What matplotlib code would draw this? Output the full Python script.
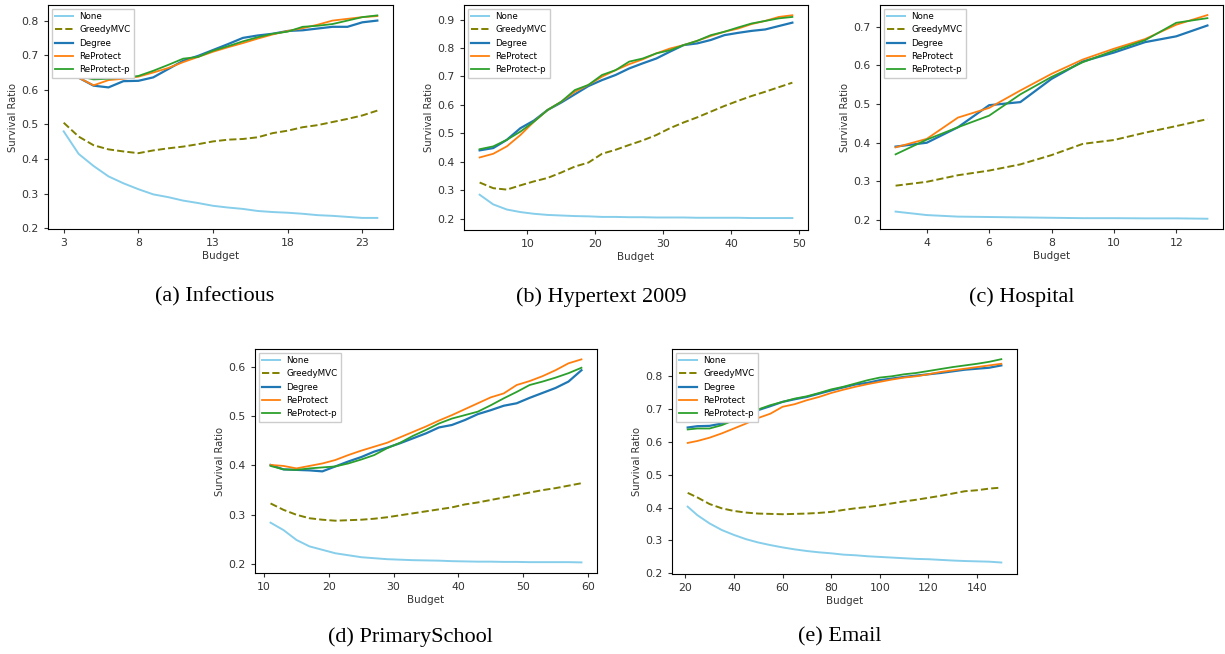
import numpy as np
import matplotlib
matplotlib.use('Agg')
import matplotlib.pyplot as plt

# (a) Infectious
inf_budget = list(range(3, 25))
inf_none = [0.48, 0.415, 0.38, 0.35, 0.33, 0.313, 0.298, 0.29, 0.28, 0.273, 0.265,
            0.26, 0.256, 0.25, 0.247, 0.245, 0.242, 0.238, 0.236, 0.233, 0.23, 0.23]
inf_greedy = [0.505, 0.465, 0.44, 0.428, 0.422, 0.417, 0.425, 0.431, 0.436, 0.443, 0.451,
              0.456, 0.458, 0.463, 0.475, 0.482, 0.492, 0.498, 0.507, 0.516, 0.526, 0.54]
inf_degree = [0.646, 0.635, 0.612, 0.607, 0.625, 0.626, 0.636, 0.66, 0.684, 0.698, 0.715,
              0.732, 0.75, 0.757, 0.762, 0.77, 0.772, 0.777, 0.782, 0.782, 0.795, 0.8]
inf_reprotect = [0.65, 0.635, 0.613, 0.628, 0.632, 0.638, 0.65, 0.663, 0.68, 0.695, 0.71,
                 0.723, 0.735, 0.748, 0.76, 0.77, 0.778, 0.788, 0.8, 0.805, 0.81, 0.813]
inf_reprotect_p = [0.648, 0.64, 0.63, 0.632, 0.635, 0.64, 0.655, 0.672, 0.69, 0.695, 0.713,
                   0.726, 0.74, 0.752, 0.762, 0.768, 0.782, 0.785, 0.79, 0.8, 0.81, 0.815]

# (b) Hypertext 2009
hyp_budget = list(range(3, 50, 2))
hyp_none = [0.284, 0.25, 0.232, 0.223, 0.217, 0.213, 0.211, 0.209, 0.208, 0.206, 0.206, 0.205,
            0.205, 0.204, 0.204, 0.204, 0.203, 0.203, 0.203, 0.203, 0.202, 0.202, 0.202, 0.202]
hyp_greedy = [0.327, 0.307, 0.302, 0.317, 0.331, 0.343, 0.362, 0.383, 0.397, 0.428, 0.442, 0.459,
              0.475, 0.494, 0.518, 0.538, 0.556, 0.576, 0.596, 0.614, 0.631, 0.646, 0.662, 0.678]
hyp_degree = [0.44, 0.448, 0.477, 0.518, 0.545, 0.582, 0.608, 0.637, 0.666, 0.687, 0.705, 0.728,
              0.746, 0.763, 0.787, 0.81, 0.816, 0.828, 0.845, 0.853, 0.86, 0.865, 0.877, 0.889]
hyp_reprotect = [0.415, 0.428, 0.454, 0.494, 0.541, 0.582, 0.611, 0.646, 0.67, 0.699, 0.722, 0.743,
                 0.76, 0.781, 0.798, 0.81, 0.825, 0.842, 0.857, 0.868, 0.884, 0.895, 0.909, 0.915]
hyp_reprotect_p = [0.444, 0.454, 0.477, 0.506, 0.541, 0.582, 0.611, 0.652, 0.67, 0.705, 0.722, 0.752,
                   0.763, 0.781, 0.792, 0.81, 0.825, 0.845, 0.857, 0.872, 0.886, 0.895, 0.904, 0.909]

# (c) Hospital
hos_budget = list(range(3, 14))
hos_none = [0.222, 0.213, 0.209, 0.208, 0.207, 0.206, 0.205, 0.205, 0.2045, 0.2045, 0.2035]
hos_greedy = [0.289, 0.299, 0.316, 0.328, 0.344, 0.368, 0.397, 0.407, 0.426, 0.443, 0.461]
hos_degree = [0.39, 0.4, 0.44, 0.497, 0.505, 0.565, 0.61, 0.633, 0.66, 0.675, 0.703]
hos_reprotect = [0.388, 0.41, 0.465, 0.49, 0.535, 0.578, 0.615, 0.643, 0.668, 0.705, 0.73]
hos_reprotect_p = [0.37, 0.408, 0.44, 0.47, 0.525, 0.57, 0.608, 0.638, 0.665, 0.71, 0.722]

# (d) PrimarySchool
pri_budget = list(range(11, 60, 2))
pri_none = [0.284, 0.269, 0.249, 0.236, 0.229, 0.222, 0.218, 0.214, 0.212, 0.21, 0.209, 0.208, 0.2075,
            0.207, 0.206, 0.2055, 0.205, 0.205, 0.2045, 0.2045, 0.204, 0.204, 0.204, 0.204, 0.2035]
pri_greedy = [0.323, 0.31, 0.3, 0.293, 0.29, 0.288, 0.289, 0.29, 0.292, 0.295, 0.299, 0.303, 0.307,
              0.311, 0.315, 0.321, 0.325, 0.33, 0.335, 0.34, 0.345, 0.35, 0.354, 0.359, 0.364]
pri_degree = [0.401, 0.392, 0.391, 0.39, 0.388, 0.398, 0.408, 0.417, 0.428, 0.436, 0.445, 0.455, 0.465,
              0.477, 0.482, 0.492, 0.504, 0.512, 0.521, 0.526, 0.537, 0.547, 0.557, 0.57, 0.593]
pri_reprotect = [0.401, 0.399, 0.394, 0.399, 0.404, 0.411, 0.421, 0.43, 0.438, 0.446, 0.457, 0.468, 0.479,
                 0.491, 0.502, 0.514, 0.526, 0.538, 0.546, 0.563, 0.571, 0.581, 0.593, 0.607, 0.615]
pri_reprotect_p = [0.399, 0.392, 0.391, 0.394, 0.396, 0.398, 0.404, 0.412, 0.421, 0.435, 0.446, 0.46, 0.472,
                   0.485, 0.495, 0.502, 0.509, 0.522, 0.536, 0.549, 0.563, 0.57, 0.578, 0.587, 0.598]

# (e) Email
ema_budget = [21] + list(range(25, 151, 5))
ema_none = [0.403, 0.377, 0.352, 0.332, 0.317, 0.304, 0.294, 0.286, 0.279, 0.273, 0.268, 0.264, 0.261, 0.257,
            0.255, 0.252, 0.25, 0.248, 0.246, 0.244, 0.243, 0.241, 0.239, 0.2375, 0.2365, 0.2355, 0.233]
ema_greedy = [0.445, 0.431, 0.411, 0.398, 0.39, 0.385, 0.382, 0.381, 0.38, 0.381, 0.382, 0.384, 0.387, 0.393,
              0.398, 0.402, 0.407, 0.413, 0.419, 0.424, 0.43, 0.436, 0.443, 0.45, 0.453, 0.458, 0.461]
ema_degree = [0.644, 0.648, 0.649, 0.656, 0.666, 0.681, 0.697, 0.709, 0.722, 0.73, 0.737, 0.747, 0.757, 0.766,
              0.775, 0.78, 0.788, 0.793, 0.798, 0.802, 0.806, 0.81, 0.815, 0.82, 0.823, 0.826, 0.833]
ema_reprotect = [0.597, 0.603, 0.613, 0.626, 0.641, 0.656, 0.673, 0.686, 0.707, 0.715, 0.727, 0.737, 0.749, 0.759,
                 0.768, 0.776, 0.783, 0.79, 0.796, 0.8, 0.806, 0.813, 0.818, 0.823, 0.828, 0.833, 0.838]
ema_reprotect_p = [0.638, 0.641, 0.641, 0.651, 0.666, 0.683, 0.699, 0.712, 0.722, 0.732, 0.739, 0.749, 0.76, 0.768,
                   0.778, 0.788, 0.796, 0.8, 0.806, 0.81, 0.816, 0.822, 0.828, 0.833, 0.838, 0.844, 0.852]

W, H = 1225, 654
fig = plt.figure(figsize=(W / 100, H / 100), dpi=100)

def box(left, top, right, bottom):
    return [left / W, 1 - bottom / H, (right - left) / W, (bottom - top) / H]

panels = [
    (box(48, 5, 393, 229), inf_budget, [inf_none, inf_greedy, inf_degree, inf_reprotect, inf_reprotect_p],
     (0.198, 0.845), [3, 8, 13, 18, 23], '(a) Infectious', (215, 297)),
    (box(464, 5, 808, 230), hyp_budget, [hyp_none, hyp_greedy, hyp_degree, hyp_reprotect, hyp_reprotect_p],
     (0.16, 0.951), [10, 20, 30, 40, 50], '(b) Hypertext 2009', (601, 297)),
    (box(880, 5, 1223, 229), hos_budget, [hos_none, hos_greedy, hos_degree, hos_reprotect, hos_reprotect_p],
     (0.177, 0.756), [4, 6, 8, 10, 12], '(c) Hospital', (1022, 297)),
    (box(255, 349, 597, 573), pri_budget, [pri_none, pri_greedy, pri_degree, pri_reprotect, pri_reprotect_p],
     (0.182, 0.636), [10, 20, 30, 40, 50, 60], '(d) PrimarySchool', (410, 637)),
    (box(672, 349, 1017, 574), ema_budget, [ema_none, ema_greedy, ema_degree, ema_reprotect, ema_reprotect_p],
     (0.198, 0.883), [20, 40, 60, 80, 100, 120, 140], '(e) Email', (840, 637)),
]

labels = ['None', 'GreedyMVC', 'Degree', 'ReProtect', 'ReProtect-p']
colors = ['skyblue', 'olive', 'tab:blue', 'tab:orange', 'tab:green']
styles = ['-', '--', '-', '-', '-']
widths = [1.4, 1.4, 1.6, 1.3, 1.3]

for rect, x, series, ylim, xticks, caption, cpos in panels:
    ax = fig.add_axes(rect)
    for y, lab, c, ls, lw in zip(series, labels, colors, styles, widths):
        ax.plot(x, y, ls, color=c, lw=lw, label=lab)
    ax.set_ylim(*ylim)
    ax.set_xticks(xticks)
    ax.tick_params(labelsize=7.8, length=3, width=0.8, colors='#333333')
    ax.set_xlabel('Budget', fontsize=7.4, labelpad=2, color='#333333')
    ax.set_ylabel('Survival Ratio', fontsize=7.2, labelpad=3, color='#333333')
    ax.legend(loc='upper left', fontsize=6.3, labelspacing=0.5, handlelength=2.0,
              borderaxespad=0.4, fancybox=False, framealpha=1, edgecolor='#cccccc')
    fig.text(cpos[0] / W, 1 - cpos[1] / H, caption, ha='center', va='center',
             fontsize=16, family='Liberation Serif')

fig.savefig('out.png', dpi=100)
